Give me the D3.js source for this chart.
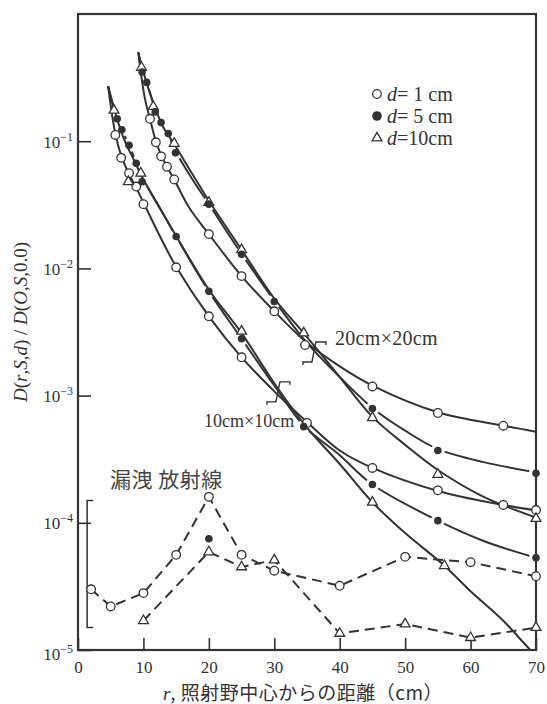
<!DOCTYPE html>
<html lang="ja">
<head>
<meta charset="UTF-8">
<title>漏洩放射線</title>
<style>
    body { margin: 0; background: #fff; }
    svg { display: block; }
</style>
</head>
<body>
<script src="https://d3js.org/d3.v7.min.js"></script>
<script>
    // Layout
    const width = 547, height = 704,
        plot = {left: 78, right: 536, top: 14, bottom: 650},
        ink = "#333",
        serif = "'Liberation Serif', 'DejaVu Serif', serif",
        cjk = "'Noto Sans CJK JP', sans-serif";

    // Axis ticks
    const xTicks = [0, 10, 20, 30, 40, 50, 60, 70];
    const yTicks = [1e-5, 1e-4, 1e-3, 1e-2, 1e-1];
    const yTickLabels = ["−5", "−4", "−3", "−2", "−1"];

    // Smooth curves drawn through the data, [r (cm), ratio]
    const curve10_d1 = [[4.6, 0.27], [5.7, 0.115], [6.6, 0.077], [7.8, 0.055], [9, 0.042], [10, 0.033], [12.5, 0.018], [15, 0.0103], [20, 0.0042], [25, 0.002], [30, 0.00108], [35, 0.00062], [40, 0.00037], [45, 0.00027], [55, 0.000178], [65, 0.000138], [70, 0.000125]];
    const curve10_d5 = [[4.6, 0.27], [6, 0.15], [6.7, 0.123], [7.8, 0.093], [8.9, 0.068], [10, 0.05], [12.5, 0.03], [15, 0.0178], [20, 0.0066], [25, 0.0028], [30, 0.0012], [34.5, 0.00058], [40, 0.00034], [45, 0.0002], [55, 0.000104], [62, 0.000072], [70, 0.000053]];
    const curve10_d10 = [[4.6, 0.27], [5.5, 0.18], [7, 0.105], [8.5, 0.072], [10, 0.05], [15, 0.018], [20, 0.0068], [25, 0.0031], [30, 0.00125], [35, 0.00056], [40, 0.00029], [45, 0.000145], [50, 0.000083], [56, 0.000046], [60, 0.000029], [65, 0.000017], [69, 0.0000102], [70, 0.0000092]];
    const curve20_d1 = [[9.2, 0.5], [10.2, 0.22], [11, 0.15], [11.9, 0.1], [12.7, 0.078], [13.6, 0.063], [14.7, 0.05], [17, 0.03], [20, 0.0186], [25, 0.0087], [30, 0.0046], [35, 0.0026], [40, 0.0017], [45, 0.0012], [55, 0.00074], [65, 0.00058], [70, 0.00052]];
    const curve20_d5 = [[9.2, 0.5], [10, 0.34], [10.6, 0.28], [11.8, 0.18], [12.8, 0.14], [13.8, 0.112], [15, 0.082], [17.5, 0.05], [20, 0.032], [25, 0.013], [30, 0.0056], [35, 0.0026], [40, 0.0014], [45, 0.0008], [50, 0.00053], [55, 0.00038], [62, 0.0003], [70, 0.00025]];
    const curve20_d10 = [[9.2, 0.5], [10, 0.35], [11.5, 0.2], [13, 0.13], [14.7, 0.095], [17.5, 0.055], [20, 0.034], [25, 0.014], [30, 0.0058], [34.5, 0.0031], [40, 0.0014], [45, 0.00068], [50, 0.00041], [55, 0.00026], [62, 0.00016], [70, 0.00011]];

    // Measured points
    const pts10_d1 = [[5.7, 0.112], [6.6, 0.074], [7.8, 0.056], [8.9, 0.044], [10, 0.032], [15, 0.0102], [20, 0.0042], [25, 0.002], [35, 0.00061], [45, 0.00027], [55, 0.00018], [65, 0.000138], [70, 0.000126]];
    const pts10_d5 = [[6, 0.15], [6.7, 0.123], [7.8, 0.093], [8.9, 0.067], [9.8, 0.048], [15, 0.0178], [20, 0.0066], [25, 0.0028], [34.5, 0.00057], [45, 0.0002], [55, 0.000104], [70, 0.000053]];
    const pts10_d10 = [[5.5, 0.175], [7.7, 0.048], [9.6, 0.056], [25, 0.0032], [45, 0.000145], [56, 0.000046]];
    const pts20_d1 = [[11, 0.15], [11.9, 0.098], [12.7, 0.076], [13.6, 0.063], [14.7, 0.05], [20, 0.0186], [25, 0.0087], [30, 0.0046], [34.7, 0.0025], [45, 0.00118], [55, 0.00073], [65, 0.00058]];
    const pts20_d5 = [[9.8, 0.35], [10.5, 0.29], [11.8, 0.17], [12.7, 0.14], [13.8, 0.115], [14.9, 0.081], [20, 0.032], [25, 0.0129], [30, 0.0055], [45, 0.00079], [55, 0.00037], [70, 0.000245]];
    const pts20_d10 = [[9.7, 0.38], [11.5, 0.187], [14.7, 0.096], [20, 0.033], [25, 0.014], [34.5, 0.0031], [45, 0.00067], [55, 0.00024], [70, 0.000108]];

    // Leakage radiation
    const leak_d1 = [[2, 3.0e-5], [5, 2.2e-5], [10, 2.8e-5], [15, 5.6e-5], [20, 1.6e-4], [25, 5.6e-5], [30, 4.2e-5], [40, 3.2e-5], [50, 5.4e-5], [60, 4.9e-5], [70, 3.8e-5]];
    const leak_d5 = [[20, 7.5e-5]];
    const leak_d10 = [[10, 1.7e-5], [20, 5.9e-5], [25, 4.5e-5], [30, 5.1e-5], [40, 1.35e-5], [50, 1.6e-5], [60, 1.25e-5], [70, 1.5e-5]];
    const leakRange = [1.5e-5, 1.5e-4];

    // Field-size marks on the curves
    const fieldMarks = [[30.4, 1.07e-3], [35.9, 2.2e-3]];

    const x = d3.scaleLinear().domain([0, 70]).range([plot.left, plot.right]);
    const y = d3.scaleLog().domain([1e-5, 1]).range([plot.bottom, plot.top]);

    const svg = d3.select("body").append("svg")
        .attr("width", width)
        .attr("height", height);

    svg.append("clipPath").attr("id", "clip")
        .append("rect")
        .attr("x", plot.left).attr("y", plot.top)
        .attr("width", plot.right - plot.left)
        .attr("height", plot.bottom - plot.top);

    const smooth = d3.line()
        .x(d => x(d[0])).y(d => y(d[1]))
        .curve(d3.curveCatmullRom.alpha(0.5));
    const straight = d3.line()
        .x(d => x(d[0])).y(d => y(d[1]));

    // Axes
    const xAxis = svg.append("g")
        .attr("transform", `translate(0,${plot.bottom})`)
        .call(d3.axisBottom(x).tickValues(xTicks).tickSizeInner(-12).tickSizeOuter(0).tickPadding(11));
    xAxis.select(".domain").remove();
    xAxis.selectAll("line").attr("stroke", ink).attr("stroke-width", 1.6);
    xAxis.selectAll("text")
        .attr("font-family", serif).attr("font-size", 17).attr("fill", ink);

    const yAxis = svg.append("g")
        .attr("transform", `translate(${plot.left},0)`)
        .call(d3.axisLeft(y).tickValues(yTicks).tickSizeInner(-13).tickSizeOuter(0).tickFormat(""));
    yAxis.select(".domain").remove();
    yAxis.selectAll("line").attr("stroke", ink).attr("stroke-width", 1.6);
    yAxis.selectAll(".tick").each(function(d, i) {
        const t = d3.select(this).append("text")
            .attr("x", -5).attr("y", i === 0 ? 9 : 6)
            .attr("text-anchor", "end")
            .attr("font-family", serif)
            .attr("fill", ink);
        t.append("tspan").attr("font-size", 17).text("10");
        t.append("tspan").attr("font-size", 12).attr("dy", -7).text(yTickLabels[i]);
    });

    // Frame
    svg.append("rect")
        .attr("x", plot.left).attr("y", plot.top)
        .attr("width", plot.right - plot.left)
        .attr("height", plot.bottom - plot.top)
        .attr("fill", "none")
        .attr("stroke", ink)
        .attr("stroke-width", 2.2);

    const curves = svg.append("g").attr("clip-path", "url(#clip)");

    // Gaps around the filled markers on the d=5 curves
    function gapMask(id, pts) {
        const m = svg.append("mask").attr("id", id)
            .attr("maskUnits", "userSpaceOnUse")
            .attr("x", 0).attr("y", 0).attr("width", width).attr("height", height);
        m.append("rect").attr("width", width).attr("height", height).attr("fill", "#fff");
        m.selectAll("circle").data(pts).enter().append("circle")
            .attr("cx", d => x(d[0])).attr("cy", d => y(d[1]))
            .attr("r", 7).attr("fill", "#000");
        return `url(#${id})`;
    }

    const solidCurves = [curve10_d1, curve10_d10, curve20_d1, curve20_d10];
    curves.selectAll(".solid").data(solidCurves).enter().append("path")
        .attr("class", "solid")
        .attr("d", smooth)
        .attr("fill", "none")
        .attr("stroke", ink)
        .attr("stroke-width", 2);

    [[curve10_d5, pts10_d5, "gap10"], [curve20_d5, pts20_d5, "gap20"]].forEach(function(c) {
        curves.append("path")
            .attr("d", smooth(c[0]))
            .attr("fill", "none")
            .attr("stroke", ink)
            .attr("stroke-width", 2)
            .attr("mask", gapMask(c[2], c[1]));
    });

    // Leakage lines
    [leak_d1, leak_d10].forEach(function(l) {
        curves.append("path")
            .attr("d", straight(l))
            .attr("fill", "none")
            .attr("stroke", ink)
            .attr("stroke-width", 2)
            .attr("stroke-dasharray", "10,6");
    });

    // Leakage range bracket
    svg.append("path")
        .attr("d", `M${x(1.4) + 6},${y(leakRange[1])}H${x(1.4)}V${y(leakRange[0])}H${x(1.4) + 6}`)
        .attr("fill", "none")
        .attr("stroke", ink)
        .attr("stroke-width", 1.5);

    // Field-size marks
    svg.selectAll(".fmark").data(fieldMarks).enter().append("path")
        .attr("class", "fmark")
        .attr("transform", d => `translate(${x(d[0])},${y(d[1])})`)
        .attr("d", "M13,-7V-10H3L-1,10H-10V13")
        .attr("fill", "none")
        .attr("stroke", ink)
        .attr("stroke-width", 1.4);

    // Markers
    const tri = d3.symbol().type(d3.symbolTriangle).size(42);
    function openCircles(pts) {
        svg.append("g").selectAll("circle").data(pts).enter().append("circle")
            .attr("cx", d => x(d[0])).attr("cy", d => y(d[1]))
            .attr("r", 4.3)
            .attr("fill", "#fff").attr("stroke", ink).attr("stroke-width", 1.3);
    }
    function filledCircles(pts) {
        svg.append("g").selectAll("circle").data(pts).enter().append("circle")
            .attr("cx", d => x(d[0])).attr("cy", d => y(d[1]))
            .attr("r", 3.8)
            .attr("fill", ink);
    }
    function triangles(pts) {
        svg.append("g").selectAll("path").data(pts).enter().append("path")
            .attr("d", tri)
            .attr("transform", d => `translate(${x(d[0])},${y(d[1])})`)
            .attr("fill", "#fff").attr("stroke", ink).attr("stroke-width", 1.3);
    }
    [pts10_d1, pts20_d1, leak_d1].forEach(openCircles);
    [pts10_d10, pts20_d10, leak_d10].forEach(triangles);
    [pts10_d5, pts20_d5, leak_d5].forEach(filledCircles);

    // Legend
    const legend = svg.append("g").attr("transform", "translate(377,94)");
    const legendRows = ["= 1 cm", "= 5 cm", "=10cm"];
    legendRows.forEach(function(txt, i) {
        const row = legend.append("g").attr("transform", `translate(0,${i * 22})`);
        if (i === 0) row.append("circle").attr("r", 4.3).attr("fill", "#fff").attr("stroke", ink).attr("stroke-width", 1.3);
        if (i === 1) row.append("circle").attr("r", 4.8).attr("fill", ink);
        if (i === 2) row.append("path").attr("d", tri).attr("fill", "#fff").attr("stroke", ink).attr("stroke-width", 1.3);
        const t = row.append("text").attr("x", 10).attr("y", 7)
            .attr("font-family", serif).attr("font-size", 20).attr("fill", ink);
        t.append("tspan").attr("font-style", "italic").text("d");
        t.append("tspan").text(txt);
    });

    // Annotations
    svg.append("text").attr("x", 335).attr("y", 345)
        .attr("font-family", serif).attr("font-size", 20).attr("fill", ink)
        .attr("letter-spacing", 0.3)
        .text("20cm×20cm");
    svg.append("text").attr("x", 204).attr("y", 427)
        .attr("font-family", serif).attr("font-size", 18).attr("fill", ink)
        .text("10cm×10cm");
    svg.append("text").attr("x", 110).attr("y", 487)
        .attr("font-family", cjk).attr("font-size", 21).attr("fill", "#444")
        .attr("letter-spacing", 0.5)
        .text("漏洩 放射線");

    // Axis titles
    const xt = svg.append("text").attr("x", 303).attr("y", 700)
        .attr("text-anchor", "middle").attr("fill", ink).attr("font-size", 19);
    xt.append("tspan").attr("font-family", serif).attr("font-style", "italic").text("r");
    xt.append("tspan").attr("font-family", cjk).attr("letter-spacing", 0.5).text(", 照射野中心からの距離（cm）");

    const yParts = [["D", 1], ["(", 0], ["r", 1], [",", 0], ["S", 1], [",", 0], ["d", 1], [") / ", 0],
        ["D", 1], ["(", 0], ["O", 1], [",", 0], ["S", 1], [",0.0)", 0]];
    const yt = svg.append("text")
        .attr("transform", "translate(27,322) rotate(-90)")
        .attr("text-anchor", "middle")
        .attr("font-family", serif).attr("font-size", 19).attr("fill", ink);
    yParts.forEach(function(p) {
        yt.append("tspan").attr("font-style", p[1] ? "italic" : "normal").text(p[0]);
    });
</script>
</body>
</html>
